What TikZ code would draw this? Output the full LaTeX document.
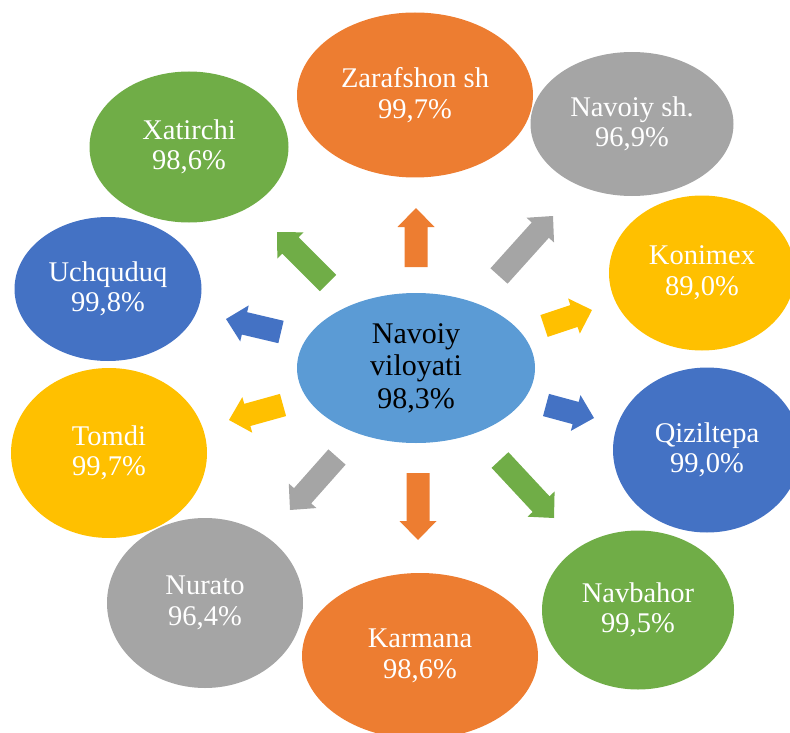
\documentclass[tikz,border=0pt]{standalone}
\usepackage{fontspec}
\setmainfont{Liberation Serif}
\usetikzlibrary{shapes.geometric,calc}
\definecolor{corange}{HTML}{ED7D31}
\definecolor{cgray}{HTML}{A5A5A5}
\definecolor{cyellow}{HTML}{FFC000}
\definecolor{cblue}{HTML}{4472C4}
\definecolor{cgreen}{HTML}{70AD47}
\definecolor{clight}{HTML}{5B9BD5}
\tikzset{
  bubble/.style={ellipse, inner sep=0pt, align=center, text=white,
    font=\fontsize{28.5}{30.5}\selectfont},
  hub/.style={ellipse, inner sep=0pt, align=center, text=black, fill=clight,
    font=\fontsize{30}{32.5}\selectfont},
}
% block arrow from tail coordinate #2 to tip coordinate #3
\newcommand\blockarrow[3]{%
  \coordinate (hb) at ($(#3)!19pt!(#2)$);
  \fill[#1] ($(#2)!11.5pt!90:(#3)$) -- ($(hb)!11.5pt!90:(#3)$)
    -- ($(hb)!18.5pt!90:(#3)$) -- (#3) -- ($(hb)!18.5pt!-90:(#3)$)
    -- ($(hb)!11.5pt!-90:(#3)$) -- ($(#2)!11.5pt!-90:(#3)$) -- cycle;
}
\begin{document}
\begin{tikzpicture}[x=1pt,y=-1pt]
\useasboundingbox (0,0) rectangle (790,733);
\clip (0,0) rectangle (790,733);

% hub
\node[hub, minimum width=238pt, minimum height=150pt] (hubn) at (416,368) {Navoiy\\viloyati\\98,3\%};

% outer bubbles
\node[bubble, fill=corange, minimum width=236pt, minimum height=165pt] (zar) at (415,95) {Zarafshon sh\\99,7\%};
\node[bubble, fill=cgray, minimum width=203pt, minimum height=144pt] (nsh) at (632,124) {Navoiy sh.\\96,9\%};
\node[bubble, fill=cyellow, minimum width=186pt, minimum height=155pt] (kon) at (702,273) {Konimex\\89,0\%};
\node[bubble, fill=cblue, minimum width=188pt, minimum height=165pt] (qiz) at (707,450) {Qiziltepa\\99,0\%};
\node[bubble, fill=cgreen, minimum width=192pt, minimum height=159pt] (nav) at (638,610) {Navbahor\\99,5\%};
\node[bubble, fill=corange, minimum width=236pt, minimum height=166pt] (kar) at (420,656) {Karmana\\98,6\%};
\node[bubble, fill=cgray, minimum width=196pt, minimum height=170pt] (nur) at (205,603) {Nurato\\96,4\%};
\node[bubble, fill=cyellow, minimum width=196pt, minimum height=170pt] (tom) at (109,453) {Tomdi\\99,7\%};
\node[bubble, fill=cblue, minimum width=187pt, minimum height=144pt] (uch) at (108,289) {Uchquduq\\99,8\%};
\node[bubble, fill=cgreen, minimum width=199pt, minimum height=151pt] (xat) at (189,147) {Xatirchi\\98,6\%};

% arrow end points
\coordinate (a1t) at (416,267); \coordinate (a1h) at (416,208);
\coordinate (a2t) at (499,276); \coordinate (a2h) at (553,216);
\coordinate (a3t) at (544,326); \coordinate (a3h) at (592,310);
\coordinate (a4t) at (546,405); \coordinate (a4h) at (594,418);
\coordinate (a5t) at (500,460); \coordinate (a5h) at (554,518);
\coordinate (a6t) at (418,473); \coordinate (a6h) at (418,540);
\coordinate (a7t) at (337,457); \coordinate (a7h) at (290,510);
\coordinate (a8t) at (283,405); \coordinate (a8h) at (229,420);
\coordinate (a9t) at (281,332); \coordinate (a9h) at (226,319);
\coordinate (a10t) at (328,283); \coordinate (a10h) at (277,232);

\blockarrow{corange}{a1t}{a1h}
\blockarrow{cgray}{a2t}{a2h}
\blockarrow{cyellow}{a3t}{a3h}
\blockarrow{cblue}{a4t}{a4h}
\blockarrow{cgreen}{a5t}{a5h}
\blockarrow{corange}{a6t}{a6h}
\blockarrow{cgray}{a7t}{a7h}
\blockarrow{cyellow}{a8t}{a8h}
\blockarrow{cblue}{a9t}{a9h}
\blockarrow{cgreen}{a10t}{a10h}
\end{tikzpicture}
\end{document}
